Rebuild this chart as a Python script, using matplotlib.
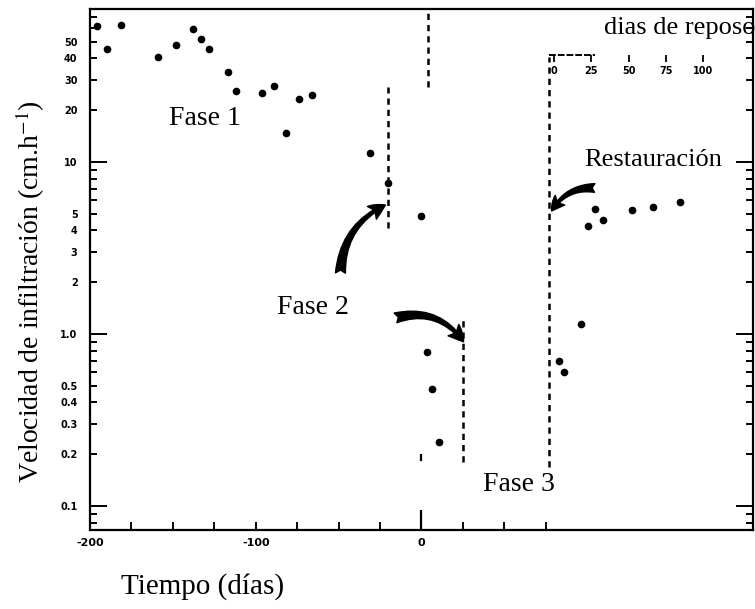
import matplotlib
matplotlib.use('Agg')
import matplotlib.pyplot as plt
from matplotlib.ticker import FixedLocator, FixedFormatter

plt.rcParams['font.family'] = 'Liberation Serif'
plt.rcParams['mathtext.fontset'] = 'stix'

# Fase 1 y 2 (tiempo en dias)
dias_f1 = [-196, -190, -181, -159, -148, -138, -133, -128, -117, -112, -96, -89, -82, -74, -66, -31, -20, 0]
vel_f1 = [61.8, 45.4, 62.6, 40.7, 47.9, 59.3, 51.9, 45.4, 33.3, 25.9, 25.2, 27.7, 14.7, 23.2, 24.5, 11.3, 7.55, 4.85]

# Fase 3
dias_f3 = [3.6, 6.6, 10.3]
vel_f3 = [0.79, 0.48, 0.235]

# Restauracion (dias de reposo)
reposo = [3.4, 6.7, 18.1, 22.8, 27.5, 32.9, 52.3, 66.4, 84.6]
vel_rest = [0.70, 0.60, 1.14, 4.25, 5.33, 4.6, 5.26, 5.47, 5.85]

# lineas de corte (x, desde, hasta)
corte_x = [-20, 4, 25, 77]
corte_lo = [4.13, 27.3, 0.18, 0.169]
corte_hi = [27.3, 77.5, 1.26, 40.8]

xticks = [-200, -175, -150, -125, -100, -75, -50, -25, 0, 25, 50, 75]
xlabels = ['-200', '', '', '', '-100', '', '', '', '0', '', '', '']
ymajor = [0.1, 1, 10]
ymajor_lab = ['0.1', '1.0', '10']
yminor = [0.08, 0.09, 0.2, 0.3, 0.4, 0.5, 0.6, 0.7, 0.8, 0.9,
          2, 3, 4, 5, 6, 7, 8, 9, 20, 30, 40, 50, 60, 70]
yminor_lab = ['', '', '0.2', '0.3', '0.4', '0.5', '', '', '', '',
              '2', '3', '4', '5', '', '', '', '', '20', '30', '40', '50', '', '']
reposo_ticks = [0, 25, 50, 75, 100]

fig = plt.figure(figsize=(7.55, 6.09), dpi=100)
ax = fig.add_axes([90 / 755, 79 / 609, 663 / 755, 521 / 609])
ax.set_yscale('log')
ax.set_xlim(-200, 200)
ax.set_ylim(0.0725, 77.5)

ax.plot(dias_f1, vel_f1, 'ko', ms=4.5)
ax.plot(dias_f3, vel_f3, 'ko', ms=4.5)

for x, lo, hi in zip(corte_x, corte_lo, corte_hi):
    ax.plot([x, x], [lo, hi], color='k', lw=1.8, ls=(0, (2.5, 2)))
ax.plot([0, 0], [0.0725, 0.2], color='k', lw=1.6, ls=(0, (9, 22)))

for s in ax.spines.values():
    s.set_linewidth(1.6)

ax.xaxis.set_major_locator(FixedLocator(xticks))
ax.xaxis.set_major_formatter(FixedFormatter(xlabels))
ax.tick_params(axis='x', direction='in', length=6, width=1.4, top=True, pad=6)
ax.yaxis.set_major_locator(FixedLocator(ymajor))
ax.yaxis.set_major_formatter(FixedFormatter(ymajor_lab))
ax.yaxis.set_minor_locator(FixedLocator(yminor))
ax.yaxis.set_minor_formatter(FixedFormatter(yminor_lab))
ax.tick_params(axis='y', which='major', direction='in', length=12, width=1.4, right=True, pad=9)
ax.tick_params(axis='y', which='minor', direction='in', length=5, width=1.4, right=True, pad=9)
for lab in ax.get_yticklabels() + ax.get_yticklabels(minor=True):
    lab.set_family('DejaVu Sans')
    lab.set_fontweight('bold')
    lab.set_fontsize(7)
for lab in ax.get_xticklabels():
    lab.set_family('DejaVu Sans')
    lab.set_fontweight('bold')
    lab.set_fontsize(8)

# eje de dias de reposo
ax2 = ax.twiny()
ax2.set_xlim(-310.7, 133.3)
ax2.plot(reposo, vel_rest, 'ko', ms=4.5)
for side in ['left', 'right']:
    ax2.spines[side].set_visible(False)
ax2.spines['bottom'].set_position(('axes', 0.912))
ax2.spines['bottom'].set_visible(False)
ax2.spines['top'].set_position(('axes', 0.912))
ax2.spines['top'].set_bounds(-2.7, 27)
ax2.spines['top'].set_linestyle((0, (2.5, 2)))
ax2.spines['top'].set_linewidth(1.4)
ax2.set_xticks(reposo_ticks)
ax2.tick_params(axis='x', top=True, bottom=False, labeltop=False, labelbottom=True,
                direction='in', length=5, width=1.3, pad=8)
for lab in ax2.get_xticklabels():
    lab.set_family('DejaVu Sans')
    lab.set_fontweight('bold')
    lab.set_fontsize(7)

# textos
ax.text(-130.5, 18.0, 'Fase 1', fontsize=20, ha='center', va='center')
ax.text(-65.3, 1.42, 'Fase 2', fontsize=20, ha='center', va='center')
ax.text(58.6, 0.134, 'Fase 3', fontsize=20, ha='center', va='center')
ax.text(139.6, 10.3, 'Restauración', fontsize=19, ha='center', va='center')
ax.text(110, 60.1, 'dias de reposo', fontsize=19, ha='left', va='center', clip_on=False)

arrow = 'fancy,head_length=0.7,head_width=0.7,tail_width=0.45'
ax.annotate('', xy=(-21.8, 5.62), xytext=(-48.9, 2.26),
            arrowprops=dict(arrowstyle=arrow, connectionstyle='arc3,rad=-0.3',
                            fc='k', ec='k', mutation_scale=16, shrinkA=0, shrinkB=0))
ax.annotate('', xy=(25.4, 0.90), xytext=(-15.7, 1.24),
            arrowprops=dict(arrowstyle=arrow, connectionstyle='arc3,rad=-0.35',
                            fc='k', ec='k', mutation_scale=16, shrinkA=0, shrinkB=0))
ax.annotate('', xy=(78.5, 5.19), xytext=(104.5, 7.06),
            arrowprops=dict(arrowstyle=arrow, connectionstyle='arc3,rad=0.3',
                            fc='k', ec='k', mutation_scale=14, shrinkA=0, shrinkB=0))

fig.text(30 / 755, 1 - 292 / 609, 'Velocidad de infiltración (cm.h$^{-1}$)',
         rotation=90, fontsize=20, ha='center', va='center')
fig.text(203 / 755, 1 - 587 / 609, 'Tiempo (días)', fontsize=21, ha='center', va='center')

fig.savefig('out.png', dpi=100)
